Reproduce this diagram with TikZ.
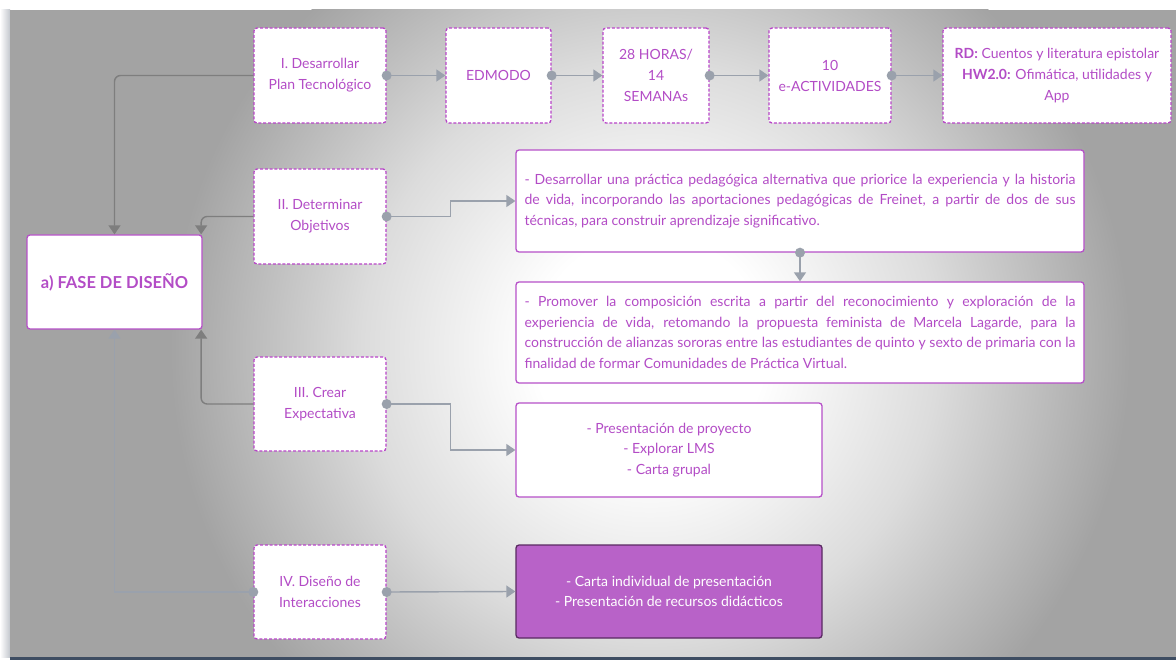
\documentclass[tikz,border=0pt]{standalone}
\usepackage{fontspec}
\setmainfont{Lato}
\usetikzlibrary{arrows.meta,calc}
\definecolor{txtpurple}{HTML}{B34CC6}
\definecolor{dashpurple}{HTML}{B845C8}
\definecolor{boxpurple}{HTML}{B650C8}
\definecolor{fillpurple}{HTML}{B862C8}
\definecolor{darkborder}{HTML}{5A2A62}
\definecolor{cdarkcol}{HTML}{7E7E7E}
\definecolor{clightcol}{HTML}{9AA1AC}
\definecolor{panelgray}{HTML}{A3A3A3}
\definecolor{midgray}{HTML}{DCDCDC}
\definecolor{bottomline}{HTML}{3E4D62}
\pgfdeclareradialshading{bgshade}{\pgfpoint{0bp}{0bp}}{color(0bp)=(white); color(6bp)=(white); color(15bp)=(midgray); color(25bp)=(panelgray); color(50bp)=(panelgray)}
\hyphenpenalty=10000
\begin{document}
\begin{tikzpicture}[x=1pt,y=-1pt,
  dbox/.style={draw=dashpurple, line width=1.3pt, dash pattern=on 3pt off 1.8pt, rounded corners=3pt, fill=white, text=txtpurple, align=center, inner sep=0pt, font=\fontsize{14}{21}\selectfont},
  sbox/.style={draw=boxpurple, line width=1.3pt, rounded corners=3pt, fill=white, text=txtpurple, inner sep=0pt, font=\fontsize{14}{20.5}\selectfont},
  cdark/.style={draw=cdarkcol, line width=1.4pt, rounded corners=6pt, -{Triangle[width=12pt,length=9pt]}},
  clight/.style={draw=clightcol, line width=1.4pt, -{Triangle[width=12pt,length=9pt]}},
  dotc/.style={fill=clightcol}
]
\useasboundingbox (0,0) rectangle (1176,660);
% background
\fill[white] (0,0) rectangle (1176,660);
\shade[left color=white, right color=clightcol!60] (0,10) rectangle (10,657);
\begin{scope}
\clip (10,10) rectangle (1176,657);
\fill[panelgray] (10,10) rectangle (1176,657);
\shade[shading=bgshade] (650,350) circle (480);
\end{scope}
\fill[bottomline] (10,656.5) rectangle (1176,660);

% nodes
\node[sbox, minimum width=175pt, minimum height=94pt, align=center, font=\fontsize{16.5}{20}\selectfont\bfseries] (fase) at (114.5,282) {a) FASE DE DISEÑO};

\node[dbox, minimum width=132pt, minimum height=95pt] (n1) at (320,75.5) {I. Desarrollar\\Plan Tecnológico};
\node[dbox, minimum width=105pt, minimum height=95pt] (edm) at (498.5,75.5) {EDMODO};
\node[dbox, minimum width=106pt, minimum height=95pt] (hrs) at (656,75.5) {28 HORAS/\\14\\SEMANAs};
\node[dbox, minimum width=122pt, minimum height=95pt] (act) at (830,75.5) {10\\e-ACTIVIDADES};
\node[dbox, minimum width=228pt, minimum height=95pt] (rd) at (1057,75.5) {\textbf{RD:} Cuentos y literatura epistolar\\\textbf{HW2.0:} Ofimática, utilidades y\\App};

\node[dbox, minimum width=132pt, minimum height=95pt] (n2) at (320,216.5) {II. Determinar\\Objetivos};
\node[dbox, minimum width=132pt, minimum height=94pt] (n3) at (320,404) {III. Crear\\Expectativa};
\node[dbox, minimum width=132pt, minimum height=94pt] (n4) at (320,592) {IV. Diseño de\\Interacciones};

\node[sbox, minimum width=568pt, minimum height=102pt, text width=551pt, align=justify] (o1) at (800,201) {- Desarrollar una práctica pedagógica alternativa que priorice la experiencia y la historia\linebreak de vida, incorporando las aportaciones pedagógicas de Freinet, a partir de dos de sus\linebreak técnicas, para construir aprendizaje significativo.};
\node[sbox, minimum width=568pt, minimum height=101pt, text width=551pt, align=justify] (o2) at (800,332.5) {- Promover la composición escrita a partir del reconocimiento y exploración de la\linebreak experiencia de vida, retomando la propuesta feminista de Marcela Lagarde, para la\linebreak construcción de alianzas sororas entre las estudiantes de quinto y sexto de primaria con la\linebreak finalidad de formar Comunidades de Práctica Virtual.};

\node[sbox, minimum width=306pt, minimum height=94pt, align=center] (pres) at (669,450) {- Presentación de proyecto\\- Explorar LMS\\- Carta grupal};
\node[sbox, draw=darkborder, fill=fillpurple, text=white, minimum width=306pt, minimum height=93pt, align=center] (carta) at (669,591.5) {- Carta individual de presentación\\- Presentación de recursos didácticos};

% connectors to fase
\draw[cdark] (n1.west) -| (fase.north);
\draw[cdark] (n2.west) -| ($(fase.north east)+(-1.5,0)$);
\draw[cdark] (n3.west) -| ($(fase.south east)+(-1.5,0)$);
\draw[clight] (n4.west) -| (fase.south);
\fill[dotc] (n4.west) circle (5);

% top row
\draw[clight] (n1.east) -- (edm.west);
\draw[clight] (edm.east) -- (hrs.west);
\draw[clight] (hrs.east) -- (act.west);
\draw[clight] (act.east) -- (rd.west);
\foreach \s in {n1,edm,hrs,act} \fill[dotc] (\s.east) circle (5);

% objectives
\draw[clight] (n2.east) -- ++(64,0) |- (o1.west);
\fill[dotc] (n2.east) circle (5);
\draw[clight] (o1.south) -- (o2.north);
\fill[dotc] (o1.south) circle (5);

% expectativa
\draw[clight] (n3.east) -- ++(64,0) |- (pres.west);
\fill[dotc] (n3.east) circle (5);

% interacciones
\draw[clight] (n4.east) -- (carta.west);
\fill[dotc] (n4.east) circle (5);
\end{tikzpicture}
\end{document}
